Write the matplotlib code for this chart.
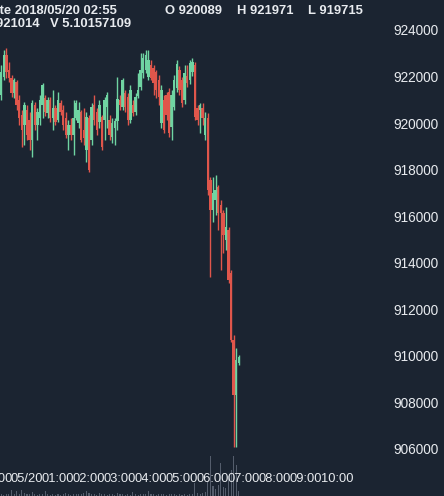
import matplotlib
matplotlib.use('Agg')
import matplotlib.pyplot as plt

# ---------------- data (5-minute candles, first one at 23:10 on 05/19) ----------------
first_candle_hour = -50 / 60.0   # 23:10, hours relative to 05/20 00:00
candle_step = 5 / 60.0

opens = [921200, 921980, 922920, 922280, 921940, 921290, 921760, 920990, 920350, 919920,
         920560, 920130, 919270, 920780, 919920, 920220, 920780, 921080, 920430, 920990,
         920220, 920650, 920130, 920860, 920560, 920220, 919490, 919920, 919490, 920220,
         920000, 920470, 919700, 918840, 920220, 919270, 920780, 920470, 920040, 920260,
         920130, 920690, 920130, 919400, 919790, 920089, 921010, 920690, 921290, 921120,
         920130, 920780, 920470, 921160, 921550, 922150, 922280, 921980, 922500, 922370,
         922190, 921850, 920000, 920990, 921210, 921330, 919830, 920690, 921510, 922280,
         921850, 920990, 922020, 921850, 922190, 922500, 920650, 920560, 920650, 919490,
         920220, 917550, 916260, 916700, 917250, 916480, 916130, 914970, 915400, 913550,
         910670, 908310, 909680]
highs = [922500, 923140, 923230, 922620, 922070, 921940, 921850, 921210, 920560, 920900,
         920780, 920470, 920990, 920900, 920650, 921210, 921720, 921210, 921120, 921120,
         921420, 920780, 921330, 920990, 920780, 920470, 920130, 920220, 920990, 920990,
         920900, 920560, 920650, 920470, 920350, 920860, 921210, 920650, 920990, 920350,
         921120, 921330, 920350, 920220, 920220, 921971, 921210, 921940, 921420, 921290,
         921640, 920990, 921290, 922150, 923010, 923010, 923140, 923140, 922710, 922500,
         922280, 922070, 921640, 921210, 921330, 921510, 921420, 922070, 922710, 922450,
         921980, 922500, 922500, 922710, 922800, 922620, 920780, 920860, 920860, 920470,
         920430, 917680, 917680, 917770, 917340, 916700, 916260, 916390, 915530, 913680,
         910890, 910330, 910030]
lows = [920990, 921850, 921940, 921760, 921120, 921080, 920560, 919920, 918970, 919060,
        919270, 918840, 918540, 919700, 919270, 919920, 920220, 920300, 920220, 920040,
        919700, 919920, 920040, 920350, 919700, 919360, 918840, 919270, 918630, 920130,
        919790, 919180, 919060, 918320, 917890, 919060, 919920, 919490, 919790, 918840,
        919270, 919790, 919270, 919140, 919060, 919715, 920560, 920560, 920470, 919920,
        920000, 920300, 920350, 921080, 921420, 921940, 922150, 921850, 921850, 921210,
        921080, 920780, 919790, 919570, 920130, 919400, 919270, 920560, 921330, 921210,
        920690, 920820, 921550, 921680, 922020, 920130, 919920, 919570, 919920, 919270,
        916910, 913380, 915740, 916050, 915400, 913680, 914410, 914540, 913130, 910580,
        906070, 906070, 909600]
closes = [922190, 922920, 922190, 921940, 921290, 921850, 920780, 920220, 919700, 920780,
          919490, 919270, 920860, 919920, 920470, 920990, 921640, 920470, 920990, 920220,
          920650, 920040, 920990, 920470, 919920, 919490, 919920, 919490, 920220, 920860,
          920560, 919270, 919360, 920260, 917980, 920690, 920130, 919700, 920780, 918970,
          920990, 921210, 919490, 920000, 920089, 921014, 920780, 921850, 920690, 920130,
          921420, 920430, 921120, 921420, 922280, 922800, 922920, 922710, 921940, 921720,
          921420, 921120, 921420, 919700, 920350, 919570, 921210, 921850, 922540, 921420,
          920860, 922150, 921720, 922580, 922620, 920260, 920130, 920780, 920220, 920220,
          917120, 916260, 916990, 917120, 916130, 916130, 915190, 915530, 913260, 910670,
          908310, 909810, 909940]
volumes = [3, 2, 4, 3, 12, 3, 10, 4, 12, 5,
           4, 3, 8, 3, 2, 4, 3, 9, 3, 2,
           3, 2, 4, 2, 3, 5, 3, 2, 4, 3,
           3, 4, 5, 10, 6, 4, 3, 2, 6, 4,
           3, 2, 3, 4, 2, 5.10157109, 3, 4, 2, 3,
           2, 8, 3, 2, 4, 3, 3, 9, 4, 3,
           2, 3, 4, 3, 2, 3, 4, 3, 2, 3,
           2, 3, 2, 4, 3, 25, 6, 4, 5, 8,
           30, 78, 20, 14, 22, 64, 18, 15, 40, 50,
           78, 60, 10]

tick_hours = [-1, 0, 1, 2, 3, 4, 5, 6, 7, 8, 9, 10]
tick_labels = ['23:00', '05/20', '01:00', '02:00', '03:00', '04:00', '05:00',
               '06:00', '07:00', '08:00', '09:00', '10:00']
price_ticks = [906000, 908000, 910000, 912000, 914000, 916000, 918000,
               920000, 922000, 924000]
header_index = 45
header_date = '2018/05/20 02:55'

# ---------------- style ----------------
BG = '#1b2431'
UP = '#6fd4a2'
DOWN = '#e0564b'
TXT = '#e8ebef'
VOL = '#5f6877'
FONT = 'Liberation Sans'

W, H = 444, 496
fig = plt.figure(figsize=(W / 100, H / 100), dpi=100, facecolor=BG)

L_px, R_px, B_px = -25, 386, 465
hour_px, zero_px = 31.0, 27.0
xlim = ((L_px - zero_px) / hour_px, (R_px - zero_px) / hour_px)

vax = fig.add_axes([L_px / W, 0, (R_px - L_px) / W, 41 / H], zorder=0)
ax = fig.add_axes([L_px / W, (H - B_px) / H, (R_px - L_px) / W, B_px / H], zorder=1)
ax.set_facecolor('none')
vax.set_facecolor('none')

xs = [first_candle_hour + i * candle_step for i in range(len(opens))]
cols = [UP if c >= o else DOWN for o, c in zip(opens, closes)]

ax.vlines(xs, lows, highs, colors=cols, linewidth=1.0)
bottoms = [min(o, c) for o, c in zip(opens, closes)]
heights = [max(abs(c - o), 45) for o, c in zip(opens, closes)]
ax.bar(xs, heights, bottom=bottoms, width=0.08, color=cols, linewidth=0)

vax.bar(xs, volumes, width=0.035, color=VOL, alpha=0.85, linewidth=0)
vax.set_xlim(*xlim)
vax.set_ylim(0, 80)
vax.axis('off')

ax.set_xlim(*xlim)
ax.set_ylim(905295, 925290)
for s in ax.spines.values():
    s.set_visible(False)
ax.yaxis.tick_right()
ax.set_yticks(price_ticks)
ax.set_yticklabels([str(v) for v in price_ticks])
ax.set_xticks(tick_hours)
ax.set_xticklabels(tick_labels)
ax.tick_params(axis='y', length=0, pad=5, labelsize=9.8, labelcolor=TXT)
ax.tick_params(axis='x', length=0, pad=6, labelsize=9.3, labelcolor=TXT)
for lab in ax.get_xticklabels() + ax.get_yticklabels():
    lab.set_fontfamily(FONT)

# ---------------- header ----------------
hk = dict(color=TXT, fontsize=9.4, fontweight='bold', family=FONT, va='center')
fig.text(117 / W, 1 - 11 / H, 'Date ' + header_date, ha='right', **hk)
fig.text(165 / W, 1 - 11 / H, 'O %d' % opens[header_index], ha='left', **hk)
fig.text(237 / W, 1 - 11 / H, 'H %d' % highs[header_index], ha='left', **hk)
fig.text(308 / W, 1 - 11 / H, 'L %d' % lows[header_index], ha='left', **hk)
fig.text(40 / W, 1 - 24 / H, 'C %d' % closes[header_index], ha='right', **hk)
fig.text(50 / W, 1 - 24 / H, 'V %.8f' % volumes[header_index], ha='left', **hk)

fig.savefig('out.png', dpi=100, facecolor=BG)
